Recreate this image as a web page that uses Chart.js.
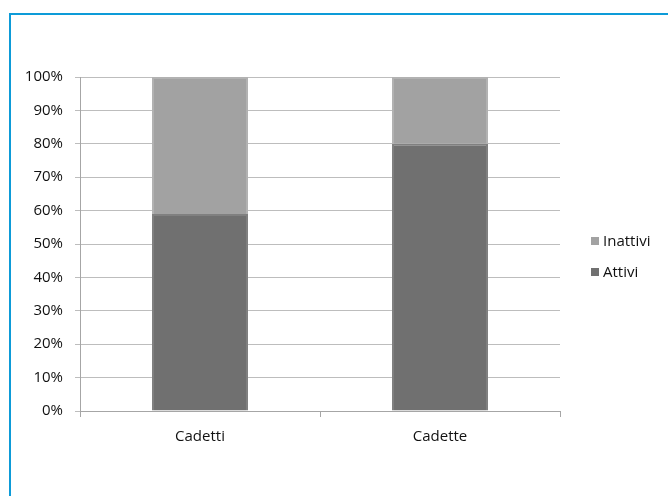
<!DOCTYPE html>
<html>
<head>
<meta charset="utf-8">
<script src="https://cdn.jsdelivr.net/npm/chart.js@4.4.1/dist/chart.umd.min.js"></script>
<style>
  html, body { margin: 0; padding: 0; background: #fff; overflow: hidden; }
  #wrap { position: relative; width: 668px; height: 496px; }
  #frame {
    position: absolute; left: 9px; top: 13px; width: 700px; height: 600px;
    border-left: 2px solid #0d9bd8; border-top: 2px solid #0d9bd8;
  }
  #chart { position: absolute; left: 0; top: 0; }
  .legend { position: absolute; left: 591px; font: 15px "Open Sans", sans-serif; color: #111; }
  .legend span.box { display: inline-block; width: 8px; height: 8px; margin-right: 4px; vertical-align: 1px; }
</style>
</head>
<body>
<div id="wrap">
  <div id="frame"></div>
  <canvas id="chart" width="668" height="496"></canvas>
  <div id="legend"></div>
</div>
<script>
'use strict';

const categories = ['Cadetti', 'Cadette'];
const attivi = [59, 80];
const inattivi = [41, 20];
const yTicks = [0, 10, 20, 30, 40, 50, 60, 70, 80, 90, 100];

const COL_ATTIVI = '#707070';
const COL_INATTIVI = '#a2a2a2';
const FONT = { family: '"Open Sans", sans-serif', size: 15 };

new Chart(document.getElementById('chart'), {
  type: 'bar',
  data: {
    labels: categories,
    datasets: [
      {
        label: 'Attivi',
        data: attivi,
        backgroundColor: COL_ATTIVI,
        borderColor: '#808080',
        borderWidth: 2,
        barPercentage: 0.4,
        categoryPercentage: 1,
      },
      {
        label: 'Inattivi',
        data: inattivi,
        backgroundColor: COL_INATTIVI,
        borderColor: '#b2b2b2',
        borderWidth: 2,
        barPercentage: 0.4,
        categoryPercentage: 1,
      },
    ],
  },
  options: {
    responsive: false,
    animation: false,
    layout: { padding: { top: 77, right: 108, left: 0, bottom: 0 } },
    plugins: { legend: { display: false }, tooltip: { enabled: false } },
    scales: {
      x: {
        stacked: true,
        afterFit: (s) => { s.height = 85; },
        ticks: { color: '#111', font: FONT, padding: 11 },
        grid: { drawOnChartArea: false, drawTicks: true, tickLength: 6, color: '#a6a6a6' },
        border: { color: '#a6a6a6' },
      },
      y: {
        stacked: true,
        min: 0,
        max: 100,
        afterFit: (s) => { s.width = 80; },
        afterBuildTicks: (s) => { s.ticks = yTicks.map(v => ({ value: v })); },
        ticks: { color: '#111', font: FONT, padding: 12, callback: (v) => v + '%' },
        grid: { color: '#bdbdbd', tickLength: 5 },
        border: { color: '#a6a6a6' },
      },
    },
  },
});

// legend: Inattivi above Attivi
const legendItems = [
  { label: 'Inattivi', color: COL_INATTIVI, y: 230 },
  { label: 'Attivi', color: COL_ATTIVI, y: 261 },
];
document.getElementById('legend').innerHTML = legendItems.map(it =>
  `<div class="legend" style="top:${it.y}px"><span class="box" style="background:${it.color}"></span>${it.label}</div>`
).join('');
</script>
</body>
</html>
